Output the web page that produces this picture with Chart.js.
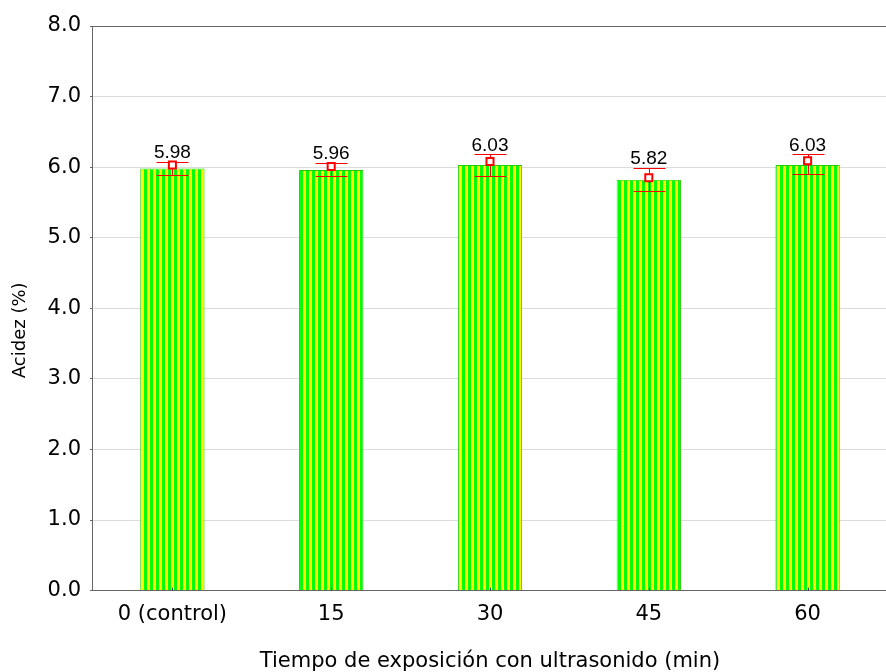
<!DOCTYPE html>
<html>
<head>
<meta charset="utf-8">
<script src="https://cdn.jsdelivr.net/npm/chart.js@4/dist/chart.umd.min.js"></script>
<style>
    html, body { margin: 0; padding: 0; background: #fff; overflow: hidden; }
    #chart { position: absolute; left: 0; top: 0; }
</style>
</head>
<body>
<canvas id="chart" width="894" height="672"></canvas>
<script>
// Data
const tiempos = ['0 (control)', '15', '30', '45', '60'];
const acidez = [5.98, 5.96, 6.03, 5.82, 6.03];
const medias = [6.03, 6.01, 6.08, 5.85, 6.09];
const limiteSup = [6.07, 6.06, 6.18, 5.99, 6.18];
const limiteInf = [5.89, 5.88, 5.88, 5.66, 5.90];
const yTicks = [0, 1, 2, 3, 4, 5, 6, 7, 8];
const yTitulo = 'Acidez (%)';

// Green / yellow vertical stripes
function stripePattern(ctx) {
    const c = document.createElement('canvas');
    c.width = 6; c.height = 6;
    const p = c.getContext('2d');
    p.fillStyle = '#00ff00'; p.fillRect(0, 0, 3, 6);
    p.fillStyle = '#ffff00'; p.fillRect(3, 0, 3, 6);
    return ctx.createPattern(c, 'repeat');
}

const ctx = document.getElementById('chart').getContext('2d');

// Error bars drawn right after the bars, below the markers
const errorBars = {
    id: 'errorBars',
    afterDatasetDraw(chart, args) {
        if (args.meta.type !== 'bar') return;
        const x = chart.scales.x, y = chart.scales.y, c = chart.ctx;
        const bottom = chart.chartArea.bottom;
        c.save();
        // small inward ticks on the x axis
        c.strokeStyle = '#444';
        c.lineWidth = 1;
        tiempos.forEach((t, i) => {
            const px = Math.round(x.getPixelForValue(i)) + 0.5;
            c.beginPath(); c.moveTo(px, bottom); c.lineTo(px, bottom - 3); c.stroke();
        });
        c.strokeStyle = '#ff0000';
        tiempos.forEach((t, i) => {
            const px = Math.round(x.getPixelForValue(i)) + 0.5;
            const yu = Math.round(y.getPixelForValue(limiteSup[i])) + 0.5;
            const yl = Math.round(y.getPixelForValue(limiteInf[i])) + 0.5;
            c.beginPath();
            c.moveTo(px, yu); c.lineTo(px, yl);
            c.moveTo(px - 16, yu); c.lineTo(px + 16, yu);
            c.moveTo(px - 16, yl); c.lineTo(px + 16, yl);
            c.stroke();
        });
        c.restore();
    },
    afterDatasetsDraw(chart) {
        const x = chart.scales.x, y = chart.scales.y, c = chart.ctx;
        c.save();
        c.fillStyle = '#000';
        c.font = '19px "Liberation Sans", Arial, sans-serif';
        c.textAlign = 'center';
        c.textBaseline = 'middle';
        tiempos.forEach((t, i) => {
            c.fillText(acidez[i].toFixed(2), x.getPixelForValue(i), y.getPixelForValue(limiteSup[i]) - 9);
        });
        // y title, sitting a bit below the middle of the axis as in the original
        c.font = '18px "DejaVu Sans"';
        c.translate(20, (chart.chartArea.top + chart.chartArea.bottom) / 2 + 22);
        c.rotate(-Math.PI / 2);
        c.fillText(yTitulo, 0, 0);
        c.restore();
    }
};

new Chart(ctx, {
    data: {
        labels: tiempos,
        datasets: [
            {
                type: 'bar',
                data: acidez,
                backgroundColor: stripePattern(ctx),
                borderColor: '#22cc00',
                borderWidth: 1,
                barPercentage: 0.405,
                categoryPercentage: 1,
                order: 2
            },
            {
                type: 'line',
                data: medias,
                showLine: false,
                pointStyle: 'rect',
                pointRadius: 5,
                pointBorderWidth: 2,
                pointBorderColor: '#ff0000',
                pointBackgroundColor: '#ffffff',
                order: 1
            }
        ]
    },
    options: {
        responsive: false,
        animation: false,
        layout: { padding: { top: 26, right: 0, bottom: 0, left: 0 } },
        plugins: { legend: { display: false }, tooltip: { enabled: false } },
        scales: {
            x: {
                grid: { display: false, drawTicks: false },
                border: { color: '#666', width: 1 },
                ticks: { color: '#000', padding: 11, font: { family: 'DejaVu Sans', size: 21 } },
                title: {
                    display: true,
                    text: 'Tiempo de exposición con ultrasonido (min)',
                    color: '#000',
                    font: { family: 'DejaVu Sans', size: 21 },
                    padding: { top: 11, bottom: -2 }
                }
            },
            y: {
                min: 0,
                max: 8,
                afterBuildTicks: axis => { axis.ticks = yTicks.map(v => ({ value: v })); },
                grid: {
                    color: c => c.tick && c.tick.value === 8 ? '#666' : '#dcdcdc',
                    tickColor: '#666',
                    tickLength: 3
                },
                border: { color: '#666', width: 1 },
                ticks: {
                    color: '#000',
                    padding: 9,
                    font: { family: 'DejaVu Sans', size: 21 },
                    callback: v => v.toFixed(1)
                },
                title: {
                    // reserves the room; the text itself is drawn by the plugin
                    display: true,
                    text: yTitulo,
                    color: 'rgba(0,0,0,0)',
                    font: { family: 'DejaVu Sans', size: 18 },
                    padding: { top: 10, bottom: 7 }
                }
            }
        }
    },
    plugins: [errorBars]
});
</script>
</body>
</html>
